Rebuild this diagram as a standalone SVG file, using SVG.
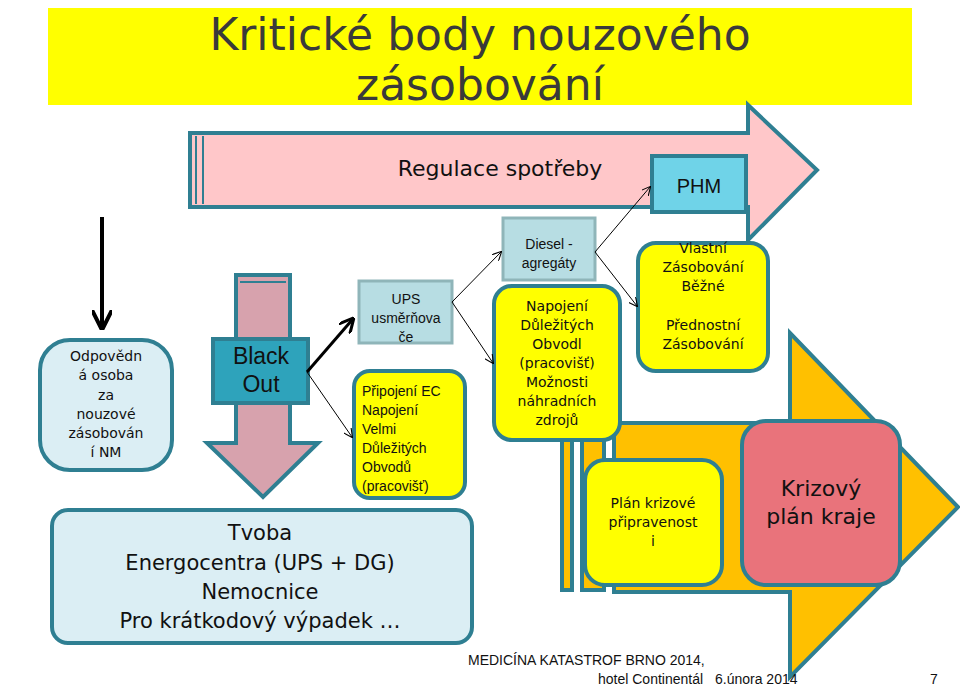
<svg xmlns="http://www.w3.org/2000/svg" width="960" height="698" viewBox="0 0 960 698">
<defs>
<style>
.t{stroke:#2f7f92;stroke-width:4}
.y{fill:#ffff00}
.s{font-family:"DejaVu Sans",sans-serif;fill:#111;text-anchor:middle}
.a{font-family:"Liberation Sans",Arial,sans-serif;fill:#111;text-anchor:middle}
.c{stroke:#000;stroke-width:1;fill:none;marker-end:url(#m)}
</style>
<marker id="m" viewBox="0 0 10 10" refX="9" refY="5" markerWidth="9" markerHeight="9" orient="auto"><path d="M0,0 L10,5 L0,10" fill="none" stroke="#000" stroke-width="1.2"/></marker>
<marker id="mb" viewBox="0 0 10 10" refX="8" refY="5" markerWidth="5" markerHeight="5" orient="auto"><path d="M0,0 L10,5 L0,10" fill="none" stroke="#000" stroke-width="2"/></marker>
</defs>
<rect width="960" height="698" fill="#fff"/>
<g id="title">
<rect x="48" y="8" width="864" height="97" fill="#ffff00"/>
<text x="480" y="50" font-family="DejaVu Sans,sans-serif" font-size="44" fill="#3a3a3a" text-anchor="middle">Kritické body nouzového</text>
<text x="480" y="100" font-family="DejaVu Sans,sans-serif" font-size="44" fill="#3a3a3a" text-anchor="middle">zásobování</text>
</g>
<g id="regulace">
<path d="M190,133 H748 V105 L817,170 L748,240 V207 H190 Z" fill="#ffc7c9" class="t"/>
<line x1="196" y1="136" x2="196" y2="204" stroke="#2f7f92" stroke-width="2"/>
<line x1="203" y1="136" x2="203" y2="204" stroke="#2f7f92" stroke-width="2"/>
<text x="500" y="176" class="s" font-size="22">Regulace spotřeby</text>
</g>
<g id="orange">
<path d="M614,423 H790 V333 L958,507 L790,677 V592 H614 Z" fill="#ffc000" class="t"/>
<rect x="562" y="425" width="10" height="165" fill="#ffc000" class="t" stroke-width="3"/>
<rect x="582" y="425" width="22" height="165" fill="#ffc000" class="t" stroke-width="3"/>
</g>
<g id="phm"><rect x="652" y="156" width="94" height="56" fill="#6fd3e8" class="t"/><text x="699" y="193" class="a" font-size="20">PHM</text></g>
<g id="blackout">
<path d="M236,275 H290 V443 H318 L263,497 L207,443 H236 Z" fill="#d7a2ad" class="t"/>
<line x1="240" y1="282" x2="286" y2="282" stroke="#2f7f92" stroke-width="2"/>
<rect x="213" y="339" width="95" height="64" fill="#2ea3bb" class="t"/>
<text x="261" y="364" class="a" font-size="23">Black</text>
<text x="261" y="392" class="a" font-size="23">Out</text>
</g>
<g id="odpovedna">
<rect x="40" y="340" width="132" height="130" rx="30" fill="#dbeef4" class="t"/>
<text class="s" font-size="14"><tspan x="106" y="361">Odpovědn</tspan><tspan x="106" y="380">á osoba</tspan><tspan x="106" y="400">za</tspan><tspan x="106" y="419">nouzové</tspan><tspan x="106" y="438">zásobován</tspan><tspan x="106" y="457">í NM</tspan></text>
</g>
<g id="ups"><rect x="359" y="281" width="93" height="62" fill="#b7dde3" stroke="#8fb5b9" stroke-width="3"/>
<text class="a" font-size="14"><tspan x="406" y="304">UPS</tspan><tspan x="406" y="323">usměrňova</tspan><tspan x="406" y="342">če</tspan></text></g>
<g id="ec"><rect x="354" y="371" width="111" height="127" rx="16" class="t y"/>
<text font-family="Liberation Sans,Arial,sans-serif" font-size="14" fill="#111"><tspan x="362" y="396">Připojení EC</tspan><tspan x="362" y="415">Napojení</tspan><tspan x="362" y="434">Velmi</tspan><tspan x="362" y="453">Důležitých</tspan><tspan x="362" y="472">Obvodů</tspan><tspan x="362" y="491">(pracovišť)</tspan></text></g>
<g id="tvoba"><rect x="52" y="510" width="420" height="133" rx="16" fill="#dbeef4" class="t"/>
<text class="s" font-size="21"><tspan x="260" y="540">Tvoba</tspan><tspan x="260" y="570">Energocentra (UPS + DG)</tspan><tspan x="260" y="599">Nemocnice</tspan><tspan x="260" y="628">Pro krátkodový výpadek …</tspan></text></g>
<g id="diesel"><rect x="503" y="218" width="92" height="62" fill="#b7dde3" stroke="#8fb5b9" stroke-width="3"/>
<text class="a" font-size="14"><tspan x="549" y="249">Diesel -</tspan><tspan x="549" y="268">agregáty</tspan></text></g>
<g id="napojeni"><rect x="494" y="286" width="126" height="154" rx="18" class="t y"/>
<text class="s" font-size="14"><tspan x="557" y="311">Napojení</tspan><tspan x="557" y="330">Důležitých</tspan><tspan x="557" y="349">Obvodl</tspan><tspan x="557" y="368">(pracovišť)</tspan><tspan x="557" y="387">Možnosti</tspan><tspan x="557" y="406">náhradních</tspan><tspan x="557" y="425">zdrojů</tspan></text></g>
<g id="vlastni"><rect x="638" y="243" width="130" height="128" rx="18" class="t y"/>
<text class="s" font-size="14"><tspan x="703" y="253">Vlastní</tspan><tspan x="703" y="272">Zásobování</tspan><tspan x="703" y="291">Běžné</tspan><tspan x="703" y="330">Přednostní</tspan><tspan x="703" y="349">Zásobování</tspan></text></g>
<g id="plan"><rect x="585" y="460" width="137" height="125" rx="20" class="t y"/>
<text class="s" font-size="14"><tspan x="653" y="508">Plán krizové</tspan><tspan x="653" y="527">připravenost</tspan><tspan x="653" y="546">i</tspan></text></g>
<g id="krizovy"><rect x="742" y="421" width="158" height="164" rx="24" fill="#e9737b" class="t"/>
<text class="s" font-size="22"><tspan x="821" y="496">Krizový</tspan><tspan x="821" y="524">plán kraje</tspan></text></g>
<g id="connectors">
<line x1="102" y1="217" x2="102" y2="326" stroke="#000" stroke-width="4" marker-end="url(#mb)"/>
<line x1="307" y1="372" x2="352" y2="320" stroke="#000" stroke-width="3" marker-end="url(#mb)"/>
<line x1="307" y1="372" x2="352" y2="437" class="c"/>
<line x1="452" y1="302" x2="501" y2="252" class="c"/>
<line x1="452" y1="302" x2="493" y2="363" class="c"/>
<line x1="595" y1="252" x2="650" y2="187" class="c"/>
<line x1="595" y1="252" x2="637" y2="306" class="c"/>
</g>
<g id="footer" font-family="Liberation Sans,Arial,sans-serif" font-size="14" fill="#111">
<text x="468" y="665">MEDICÍNA KATASTROF BRNO 2014,</text>
<text x="598" y="684">hotel Continentál</text>
<text x="715" y="684">6.února 2014</text>
<text x="930" y="684">7</text>
</g>
</svg>
